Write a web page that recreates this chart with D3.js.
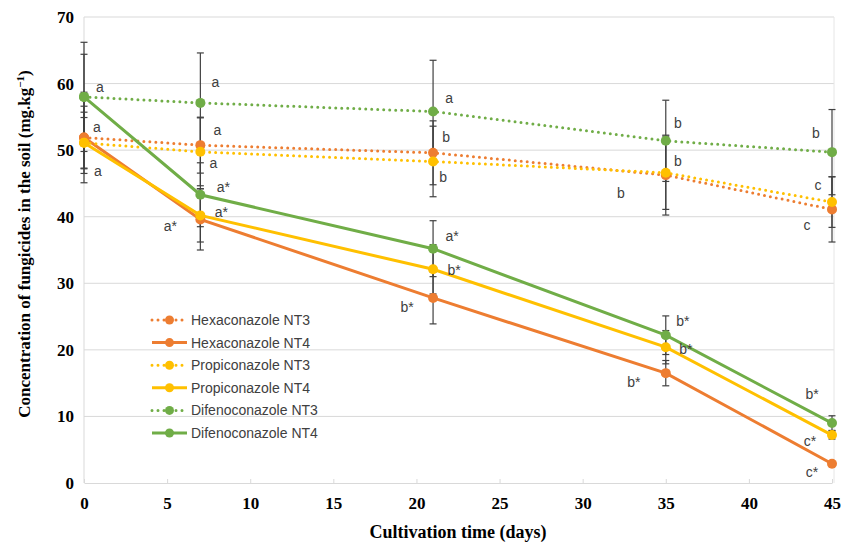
<!DOCTYPE html>
<html>
<head>
<meta charset="utf-8">
<script src="https://cdn.jsdelivr.net/npm/d3@7"></script>
<style>
  body { margin: 0; background: #fff; }
  svg { display: block; }
</style>
</head>
<body>
<div id="chart_root"></div>
<script>
const widthValue = 842;
const heightValue = 546;

// data
const days = [0, 7, 21, 35, 45];
const xTicks = [0, 5, 10, 15, 20, 25, 30, 35, 40, 45];
const yTicks = [0, 10, 20, 30, 40, 50, 60, 70];

const hexNT3 = [51.9, 50.75, 49.6, 46.25, 41.1];
const hexNT4 = [51.9, 39.6, 27.8, 16.5, 2.9];
const propNT3 = [51.1, 49.75, 48.3, 46.6, 42.2];
const propNT4 = [51.1, 40.2, 32.1, 20.4, 7.2];
const difNT3 = [58.0, 57.1, 55.8, 51.4, 49.7];
const difNT4 = [58.0, 43.3, 35.2, 22.2, 9.0];

// +/- error values
const hexNT3Err = [4.7, 4.2, 4.8, 6.0, 4.9];
const hexNT4Err = [6.8, 4.6, 3.9, 1.9, 0.3];
const propNT3Err = [3.8, 5.1, 5.3, 5.5, 3.8];
const propNT4Err = [4.6, 4.0, 3.7, 2.5, 0.6];
const difNT3Err = [8.2, 7.5, 7.7, 6.1, 6.4];
const difNT4Err = [6.4, 4.8, 4.2, 2.9, 1.1];

// significance letters ("" = none)
const hexNT3Sig = ["a", "a", "b", "b", "c"];
const hexNT4Sig = ["", "a*", "b*", "b*", "c*"];
const propNT3Sig = ["a", "a", "b", "b", "c"];
const propNT4Sig = ["", "a*", "b*", "b*", "c*"];
const difNT3Sig = ["a", "a", "a", "b", "b"];
const difNT4Sig = ["", "a*", "a*", "b*", "b*"];

// layout: letter offsets from each point (px)
const hexNT3Off = [[13, -10], [17, -15], [13, -16], [-45, 18], [-25, 16]];
const hexNT4Off = [[0, 0], [-30, 7], [-26, 9], [-32, 9], [-20, 8]];
const propNT3Off = [[14, 28], [13, 11], [10, 16], [12, -12], [-14, -17]];
const propNT4Off = [[0, 0], [21, -3], [21, 1], [20, 2], [-22, 6]];
const difNT3Off = [[16, -10], [15, -21], [16, -14], [12, -18], [-16, -19]];
const difNT4Off = [[0, 0], [23, -8], [19, -13], [17, -14], [-20, -29]];

const series = [
  { name: "Hexaconazole NT3", values: hexNT3, err: hexNT3Err, sig: hexNT3Sig, off: hexNT3Off, color: "#ED7D31", dotted: true },
  { name: "Hexaconazole NT4", values: hexNT4, err: hexNT4Err, sig: hexNT4Sig, off: hexNT4Off, color: "#ED7D31", dotted: false },
  { name: "Propiconazole NT3", values: propNT3, err: propNT3Err, sig: propNT3Sig, off: propNT3Off, color: "#FFC000", dotted: true },
  { name: "Propiconazole NT4", values: propNT4, err: propNT4Err, sig: propNT4Sig, off: propNT4Off, color: "#FFC000", dotted: false },
  { name: "Difenoconazole NT3", values: difNT3, err: difNT3Err, sig: difNT3Sig, off: difNT3Off, color: "#70AD47", dotted: true },
  { name: "Difenoconazole NT4", values: difNT4, err: difNT4Err, sig: difNT4Sig, off: difNT4Off, color: "#70AD47", dotted: false },
];

const pad = { left: 84, right: 10, top: 17, bottom: 63 };
const serif = "'Liberation Serif', 'Times New Roman', serif";
const sans = "'Liberation Sans', Arial, sans-serif";

const svg = d3
  .select("#chart_root")
  .append("svg")
  .attr("width", widthValue)
  .attr("height", heightValue);

const xScale = d3.scaleLinear().domain([0, 45]).range([pad.left, 832]);
const yScale = d3.scaleLinear().domain([0, 70]).range([heightValue - pad.bottom, pad.top]);

// gridlines
svg
  .append("g")
  .selectAll("line")
  .data(yTicks.filter((d) => d > 0))
  .join("line")
  .attr("x1", pad.left)
  .attr("x2", 834)
  .attr("y1", (d) => yScale(d))
  .attr("y2", (d) => yScale(d))
  .attr("stroke", "#d9d9d9")
  .attr("stroke-width", 1);

// axis lines
svg.append("line")
  .attr("x1", pad.left).attr("x2", pad.left)
  .attr("y1", yScale(70)).attr("y2", yScale(0))
  .attr("stroke", "#d9d9d9");
svg.append("line")
  .attr("x1", 834).attr("x2", 834)
  .attr("y1", yScale(70)).attr("y2", yScale(0))
  .attr("stroke", "#e6e6e6");

// x axis
const xAxis = svg
  .append("g")
  .attr("transform", "translate(0," + yScale(0) + ")")
  .call(d3.axisBottom(xScale).tickValues(xTicks).tickSize(-4).tickPadding(14).tickSizeOuter(0));
xAxis.select(".domain").attr("stroke", "#d9d9d9");
xAxis.selectAll(".tick line").attr("stroke", "#d9d9d9");
xAxis.selectAll("text")
  .attr("font-family", serif)
  .attr("font-weight", "bold")
  .attr("font-size", 17)
  .attr("fill", "#000");

// y axis
const yAxis = svg
  .append("g")
  .attr("transform", "translate(" + pad.left + ",0)")
  .call(d3.axisLeft(yScale).tickValues(yTicks).tickSize(0).tickPadding(10));
yAxis.select(".domain").remove();
yAxis.selectAll("text")
  .attr("font-family", serif)
  .attr("font-weight", "bold")
  .attr("font-size", 17)
  .attr("fill", "#000");

// error bars
const errG = svg.append("g");
series.forEach((s) => {
  s.values.forEach((v, i) => {
    const x = xScale(days[i]);
    const y1 = yScale(v + s.err[i]);
    const y2 = yScale(v - s.err[i]);
    errG.append("line").attr("x1", x).attr("x2", x).attr("y1", y1).attr("y2", y2)
      .attr("stroke", "#404040").attr("stroke-width", 1.2);
    [y1, y2].forEach((y) => {
      errG.append("line").attr("x1", x - 3.5).attr("x2", x + 3.5).attr("y1", y).attr("y2", y)
        .attr("stroke", "#404040").attr("stroke-width", 1.2);
    });
  });
});

// lines
const line = d3
  .line()
  .x((d, i) => xScale(days[i]))
  .y((d) => yScale(d));

series.forEach((s) => {
  svg
    .append("path")
    .datum(s.values)
    .attr("fill", "none")
    .attr("stroke", s.color)
    .attr("stroke-width", s.dotted ? 3 : 3)
    .attr("stroke-linecap", s.dotted ? "round" : "butt")
    .attr("stroke-dasharray", s.dotted ? "0 6" : null)
    .attr("d", line);
});

// markers
series.forEach((s) => {
  svg
    .append("g")
    .selectAll("circle")
    .data(s.values)
    .join("circle")
    .attr("cx", (d, i) => xScale(days[i]))
    .attr("cy", (d) => yScale(d))
    .attr("r", 5)
    .attr("fill", s.color);
});

// significance letters
series.forEach((s) => {
  svg
    .append("g")
    .selectAll("text")
    .data(s.values)
    .join("text")
    .attr("x", (d, i) => xScale(days[i]) + s.off[i][0])
    .attr("y", (d, i) => yScale(d) + s.off[i][1])
    .attr("text-anchor", "middle")
    .attr("dominant-baseline", "central")
    .attr("font-family", sans)
    .attr("font-size", 14)
    .attr("fill", "#404040")
    .text((d, i) => s.sig[i]);
});

// legend
const legend = svg.append("g").attr("transform", "translate(151,320)");
series.forEach((s, i) => {
  const g = legend.append("g").attr("transform", "translate(0," + i * 22.6 + ")");
  g.append("line")
    .attr("x1", 1).attr("x2", 36).attr("y1", 0).attr("y2", 0)
    .attr("stroke", s.color)
    .attr("stroke-width", 3)
    .attr("stroke-linecap", s.dotted ? "round" : "butt")
    .attr("stroke-dasharray", s.dotted ? "0 6" : null);
  g.append("circle").attr("cx", 18.5).attr("cy", 0).attr("r", 4.5).attr("fill", s.color);
  g.append("text")
    .attr("x", 40)
    .attr("y", 0)
    .attr("dominant-baseline", "central")
    .attr("font-family", sans)
    .attr("font-size", 14)
    .attr("fill", "#404040")
    .text(s.name);
});

// axis titles
svg
  .append("text")
  .attr("x", 458)
  .attr("y", 538)
  .attr("text-anchor", "middle")
  .attr("font-family", serif)
  .attr("font-weight", "bold")
  .attr("font-size", 18)
  .text("Cultivation time (days)");

const yTitle = svg
  .append("text")
  .attr("transform", "translate(30,244) rotate(-90)")
  .attr("text-anchor", "middle")
  .attr("font-family", serif)
  .attr("font-weight", "bold")
  .attr("font-size", 17);
yTitle.append("tspan").text("Concentration of fungicides in the soil (mg.kg");
yTitle.append("tspan").attr("baseline-shift", "super").attr("font-size", 11).text("\u22121");
yTitle.append("tspan").text(")");
</script>
</body>
</html>
